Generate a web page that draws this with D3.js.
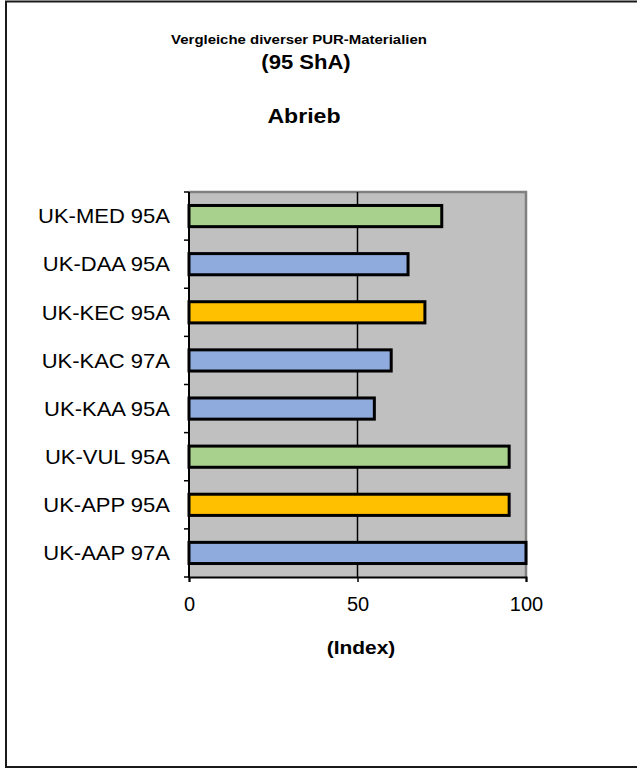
<!DOCTYPE html>
<html>
<head>
<meta charset="utf-8">
<script src="https://cdn.jsdelivr.net/npm/d3@7"></script>
<style>
  body { margin: 0; background: #fff; }
  text { font-family: "Liberation Sans", Arial, sans-serif; fill: #000; }
</style>
</head>
<body>
<div id="chart"></div>
<script>
// categories top to bottom, with their index values and fill colours
var materials = ['UK-MED 95A', 'UK-DAA 95A', 'UK-KEC 95A', 'UK-KAC 97A',
                 'UK-KAA 95A', 'UK-VUL 95A', 'UK-APP 95A', 'UK-AAP 97A'];
var abrieb = [75, 65, 70, 60, 55, 95, 95, 100];
var barColors = ['#A9D18E', '#8FAADC', '#FFC000', '#8FAADC',
                 '#8FAADC', '#A9D18E', '#FFC000', '#8FAADC'];
var xTicks = [0, 50, 100];

var width = 637, height = 769;

var svg = d3.select('#chart').append('svg')
  .attr('width', width)
  .attr('height', height);

// outer frame (right edge falls outside the picture)
svg.append('rect')
  .attr('x', 6).attr('y', 1.5)
  .attr('width', 700).attr('height', 765.5)
  .attr('fill', 'none')
  .attr('stroke', '#1a1a1a')
  .attr('stroke-width', 2);

var plot = {left: 189, right: 526, top: 192, bottom: 577};

var x = d3.scaleLinear().domain([0, 100]).range([plot.left, plot.right]);
var y = d3.scaleBand().domain(materials)
  .range([plot.top, plot.bottom])
  .paddingInner(0.56).paddingOuter(0.28);

// plot area
svg.append('rect')
  .attr('x', plot.left).attr('y', plot.top)
  .attr('width', plot.right - plot.left).attr('height', plot.bottom - plot.top)
  .attr('fill', '#C0C0C0');
svg.append('path')
  .attr('d', 'M' + plot.left + ',' + plot.top + 'H' + plot.right + 'V' + plot.bottom)
  .attr('fill', 'none')
  .attr('stroke', '#808080')
  .attr('stroke-width', 2.5);

// gridline at 50
svg.append('line')
  .attr('x1', x(50)).attr('x2', x(50))
  .attr('y1', plot.top).attr('y2', plot.bottom)
  .attr('stroke', '#000').attr('stroke-width', 1.5);

// bars
svg.selectAll('rect.bar').data(abrieb).enter()
  .append('rect')
  .attr('class', 'bar')
  .attr('x', x(0))
  .attr('y', function(d, i) { return y(materials[i]); })
  .attr('width', function(d) { return x(d) - x(0); })
  .attr('height', y.bandwidth())
  .attr('fill', function(d, i) { return barColors[i]; })
  .attr('stroke', '#000')
  .attr('stroke-width', 3);

// y axis: ticks at category boundaries
var bounds = d3.range(materials.length + 1).map(function(i) {
  return plot.top + i * (plot.bottom - plot.top) / materials.length;
});
svg.selectAll('line.ytick').data(bounds).enter()
  .append('line')
  .attr('class', 'ytick')
  .attr('x1', plot.left - 5).attr('x2', plot.left)
  .attr('y1', function(d) { return d; }).attr('y2', function(d) { return d; })
  .attr('stroke', '#000').attr('stroke-width', 1.5);

svg.selectAll('text.ylabel').data(materials).enter()
  .append('text')
  .attr('class', 'ylabel')
  .attr('transform', function(d) {
    return 'translate(170,' + (y(d) + y.bandwidth() / 2) + ') scale(1.1,1)';
  })
  .attr('dy', '0.36em')
  .attr('text-anchor', 'end')
  .style('font-size', '20px')
  .text(function(d) { return d; });

// x axis
var xAxis = svg.append('g')
  .attr('transform', 'translate(0,' + plot.bottom + ')')
  .call(d3.axisBottom(x).tickValues(xTicks).tickSize(5).tickPadding(15));
xAxis.select('.domain').attr('stroke', '#000').attr('stroke-width', 2);
xAxis.selectAll('.tick line').attr('stroke', '#000').attr('stroke-width', 1.5);
xAxis.selectAll('.tick text')
  .style('font-size', '20px')
  .style('font-family', '"Liberation Sans", Arial, sans-serif')
  .attr('fill', '#000');

svg.append('line')
  .attr('x1', plot.left).attr('x2', plot.left)
  .attr('y1', plot.top).attr('y2', plot.bottom + 1)
  .attr('stroke', '#000').attr('stroke-width', 2);

// titles
function label(txt, cx, base, size, sx) {
  svg.append('text')
    .attr('transform', 'translate(' + cx + ',' + base + ') scale(' + sx + ',1)')
    .attr('text-anchor', 'middle')
    .style('font-size', size + 'px')
    .style('font-weight', 'bold')
    .text(txt);
}
label('Vergleiche diverser PUR-Materialien', 299, 44, 13, 1.15);
label('(95 ShA)', 306, 69, 21, 1.05);
label('Abrieb', 304, 123, 21, 1.1);
label('(Index)', 361, 654, 19, 1.1);
</script>
</body>
</html>
